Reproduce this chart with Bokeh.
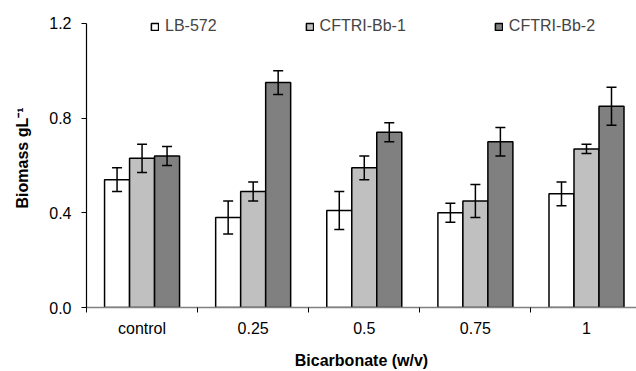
import numpy as np
from bokeh.plotting import figure
from bokeh.models import (ColumnDataSource, Range1d, FixedTicker, NumeralTickFormatter,
                          Whisker, TeeHead, Legend, LegendItem)
from bokeh.embed import file_html
from bokeh.resources import INLINE

categories = ["control", "0.25", "0.5", "0.75", "1"]
series_names = ["LB-572", "CFTRI-Bb-1", "CFTRI-Bb-2"]
lb572 = [0.54, 0.38, 0.41, 0.40, 0.48]
lb572_err = [0.05, 0.07, 0.08, 0.04, 0.05]
bb1 = [0.63, 0.49, 0.59, 0.45, 0.67]
bb1_err = [0.06, 0.04, 0.05, 0.07, 0.02]
bb2 = [0.64, 0.95, 0.74, 0.70, 0.85]
bb2_err = [0.04, 0.05, 0.04, 0.06, 0.08]
y_ticks = [0.0, 0.4, 0.8, 1.2]

colors = ["#FFFFFF", "#C0C0C0", "#808080"]
bar_w = 0.225
offsets = [-bar_w, 0.0, bar_w]
FONT = "Liberation Sans"

p = figure(width=636, height=371, output_backend="svg", toolbar_location=None,
           x_range=Range1d(0, 4.95), y_range=Range1d(0, 1.263),
           min_border_left=86, min_border_right=0, min_border_top=8, min_border_bottom=0)
p.xgrid.visible = False
p.ygrid.visible = False
p.outline_line_color = None

centers = np.arange(len(categories)) + 0.5
items = []
for name, vals, errs, col, off in zip(series_names, [lb572, bb1, bb2],
                                       [lb572_err, bb1_err, bb2_err], colors, offsets):
    v = np.array(vals)
    e = np.array(errs)
    src = ColumnDataSource(dict(x=centers + off, top=v, upper=v + e, lower=v - e))
    r = p.vbar(x="x", top="top", width=bar_w, bottom=0, source=src,
               fill_color=col, line_color="#000000", line_width=1.5)
    w = Whisker(base="x", upper="upper", lower="lower", source=src, level="overlay",
                line_color="#000000", line_width=1.5,
                upper_head=TeeHead(size=10, line_color="#000000", line_width=1.5),
                lower_head=TeeHead(size=10, line_color="#000000", line_width=1.5))
    p.add_layout(w)
    items.append(LegendItem(label=name, renderers=[r]))

legend = Legend(items=items, orientation="horizontal", location=(64, 272),
                spacing=88, padding=0, margin=0, border_line_color=None,
                background_fill_alpha=0, glyph_width=9, glyph_height=9,
                label_standoff=6, label_text_font=FONT, label_text_font_size="16px",
                label_height=16)
p.add_layout(legend, "center")

# x axis
xa = p.xaxis[0]
xa.ticker = FixedTicker(ticks=list(centers), minor_ticks=list(np.arange(len(categories) + 1)))
xa.major_label_overrides = {float(c): lab for c, lab in zip(centers, categories)}
xa.major_tick_line_color = None
xa.minor_tick_in = 0
xa.minor_tick_out = 5
xa.minor_tick_line_color = "#000000"
xa.axis_line_color = "#808080"
xa.axis_line_width = 1.5
xa.major_label_text_font = FONT
xa.major_label_text_font_size = "16px"
xa.major_label_text_color = "#000000"
xa.major_label_standoff = 6
xa.axis_label = "Bicarbonate (w/v)"
xa.axis_label_text_font = FONT
xa.axis_label_text_font_size = "16px"
xa.axis_label_text_font_style = "bold"
xa.axis_label_text_color = "#000000"
xa.axis_label_standoff = 12

# y axis
ya = p.yaxis[0]
ya.ticker = FixedTicker(ticks=y_ticks)
ya.formatter = NumeralTickFormatter(format="0.0")
ya.bounds = (0, 1.2)
ya.major_tick_in = 0
ya.major_tick_out = 5
ya.minor_tick_line_color = None
ya.axis_line_color = "#000000"
ya.axis_line_width = 1.2
ya.major_label_text_font = FONT
ya.major_label_text_font_size = "16px"
ya.major_label_text_color = "#000000"
ya.major_label_standoff = 10
ya.axis_label = "Biomass gL\u207b\u00b9"
ya.axis_label_text_font = FONT
ya.axis_label_text_font_size = "16px"
ya.axis_label_text_font_style = "bold"
ya.axis_label_text_color = "#000000"
ya.axis_label_standoff = 15

open("out.html", "w").write(file_html(p, INLINE))
